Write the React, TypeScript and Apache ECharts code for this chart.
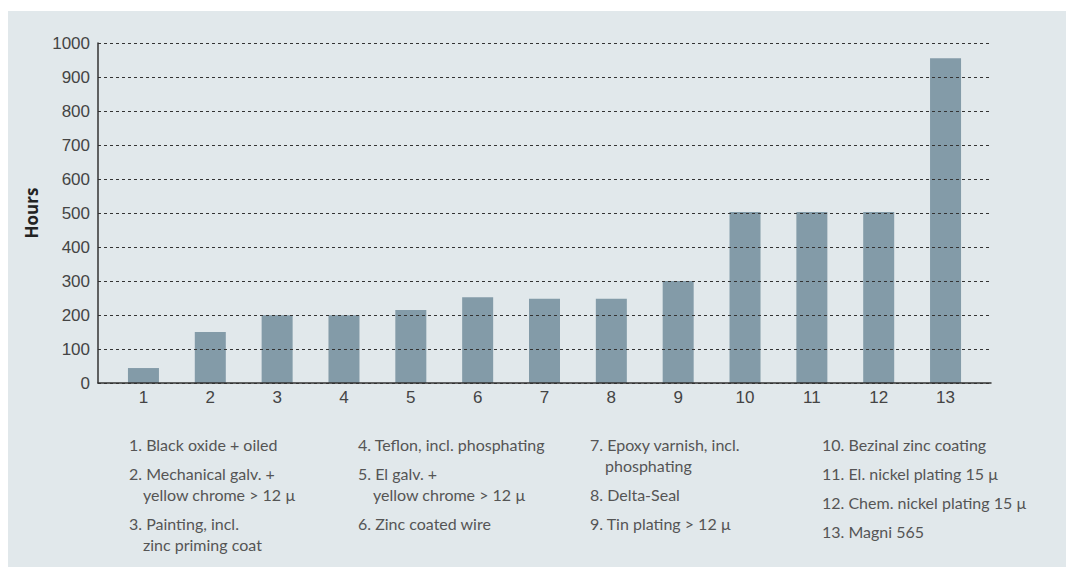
import React, { useEffect, useRef } from "react";
import * as echarts from "echarts";

const categories = ["1", "2", "3", "4", "5", "6", "7", "8", "9", "10", "11", "12", "13"];
const hours = [44, 150, 199, 199, 215, 252, 248, 248, 300, 503, 503, 503, 955];
const yTicks = { min: 0, max: 1000, interval: 100 };
const axisTitle = "Hours";
const legendNumbers = ["1.", "2.", "3.", "4.", "5.", "6.", "7.", "8.", "9.", "10.", "11.", "12.", "13."];
const legendTexts = [
  "Black oxide + oiled",
  "Mechanical galv. +\nyellow chrome > 12 µ",
  "Painting, incl.\nzinc priming coat",
  "Teflon, incl. phosphating",
  "El galv. +\nyellow chrome > 12 µ",
  "Zinc coated wire",
  "Epoxy varnish, incl.\nphosphating",
  "Delta-Seal",
  "Tin plating > 12 µ",
  "Bezinal zinc coating",
  "El. nickel plating 15 µ",
  "Chem. nickel plating 15 µ",
  "Magni 565",
];
const legendColumns = [[0, 1, 2], [3, 4, 5], [6, 7, 8], [9, 10, 11, 12]];

const OX = 8;
const OY = 11;
const colNumX = [129, 358, 590, 822];
const colTextX = [143, 373, 605, 844];

function buildLegend() {
  const els: any[] = [];
  const lh = 21;
  const font = "16px Lato";
  legendColumns.forEach((col, ci) => {
    let cy = 444;
    col.forEach((idx) => {
      const lines = legendTexts[idx].split("\n");
      els.push({
        type: "text",
        x: colNumX[ci] - OX,
        y: cy - OY - lh / 2,
        style: {
          text: legendNumbers[idx] + " " + lines[0],
          font,
          fill: "#555",
          lineHeight: lh,
          verticalAlign: "top",
        },
      });
      if (lines.length > 1) {
        els.push({
          type: "text",
          x: colTextX[ci] - OX,
          y: cy - OY - lh / 2 + lh,
          style: {
            text: lines.slice(1).join("\n"),
            font,
            fill: "#555",
            lineHeight: lh,
            verticalAlign: "top",
          },
        });
      }
      cy += (lines.length - 1) * lh + 29;
    });
  });
  return els;
}

export default function App() {
  const ref = useRef<HTMLDivElement>(null);
  useEffect(() => {
    if (!ref.current) return;
    const chart = echarts.init(ref.current, null, { renderer: "svg" });
    chart.setOption({
      animation: false,
      backgroundColor: "#e1e8eb",
      grid: { left: 90, top: 32, right: 75, bottom: 184, containLabel: false },
      xAxis: {
        type: "value",
        min: 0.32,
        max: 13.68,
        z: 6,
        axisLine: { show: true, lineStyle: { color: "#333", width: 1.5 } },
        axisTick: { show: false },
        splitLine: { show: false },
        axisLabel: {
          customValues: categories.map((_, i) => i + 1),
          formatter: (v: number) => categories[Math.round(v) - 1] ?? "",
          color: "#444",
          fontSize: 17,
          fontFamily: "Liberation Sans",
          margin: 6,
        },
      },
      yAxis: {
        type: "value",
        min: yTicks.min,
        max: yTicks.max,
        interval: yTicks.interval,
        z: 5,
        name: axisTitle,
        nameLocation: "middle",
        nameGap: 58,
        nameTextStyle: {
          fontFamily: "Open Sans",
          fontWeight: "bold",
          fontSize: 17,
          color: "#222",
        },
        axisLine: { show: true, lineStyle: { color: "#333", width: 1.5 } },
        axisTick: { show: false },
        axisLabel: {
          formatter: (v: number) => String(v),
          color: "#444",
          fontSize: 17,
          fontFamily: "Liberation Sans",
          margin: 8,
        },
        splitLine: {
          show: true,
          lineStyle: { color: "#333", width: 1, type: [3, 3] },
        },
      },
      series: [
        {
          type: "bar",
          data: categories.map((_, i) => [i + 1, hours[i]]),
          barWidth: 31,
          itemStyle: { color: "#839ba8" },
        },
      ],
      graphic: buildLegend(),
    });
    return () => chart.dispose();
  }, []);
  return (
    <div
      ref={ref}
      style={{ position: "absolute", left: OX, top: OY, width: 1058, height: 556 }}
    />
  );
}
